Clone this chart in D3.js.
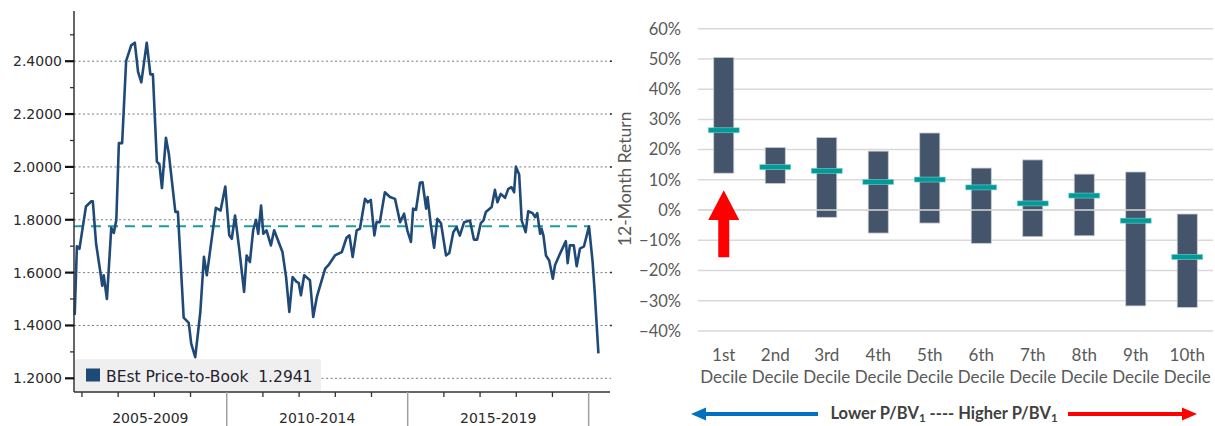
<!DOCTYPE html>
<html>
<head>
<meta charset="utf-8">
<script src="https://cdn.jsdelivr.net/npm/d3@7"></script>
<style>
  html, body { margin: 0; padding: 0; background: #fff; }
  svg { display: block; }
</style>
</head>
<body>
<svg id="chart" width="1215" height="426"></svg>
<script>
// ---------------- LEFT CHART DATA (Bloomberg P/B line) ----------------
const lineYears = [
  2005.80, 2005.86, 2005.93, 2006.11, 2006.26, 2006.30, 2006.39, 2006.51, 2006.56, 2006.60,
  2006.69, 2006.81, 2006.88, 2006.95, 2007.02, 2007.11, 2007.22, 2007.36, 2007.46, 2007.55,
  2007.64, 2007.79, 2007.89, 2007.96, 2008.07, 2008.14, 2008.21, 2008.32, 2008.40, 2008.58,
  2008.65, 2008.81, 2008.95, 2009.02, 2009.13, 2009.27, 2009.37, 2009.45, 2009.70, 2009.83,
  2009.96, 2010.07, 2010.14, 2010.23, 2010.35, 2010.48, 2010.55, 2010.64, 2010.73, 2010.81,
  2010.87, 2010.95, 2011.01, 2011.10, 2011.22, 2011.31, 2011.54, 2011.64, 2011.73, 2011.82,
  2011.93, 2011.99, 2012.05, 2012.14, 2012.30, 2012.39, 2012.49, 2012.72, 2012.81, 2012.99,
  2013.18, 2013.31, 2013.39, 2013.48, 2013.59, 2013.68, 2013.82, 2013.90, 2013.98, 2014.08,
  2014.14, 2014.23, 2014.37, 2014.51, 2014.65, 2014.79, 2014.90, 2014.99, 2015.09, 2015.15,
  2015.23, 2015.34, 2015.41, 2015.51, 2015.55, 2015.64, 2015.73, 2015.82, 2015.92, 2016.06,
  2016.15, 2016.26, 2016.35, 2016.44, 2016.56, 2016.72, 2016.83, 2016.92, 2017.02, 2017.09,
  2017.16, 2017.32, 2017.41, 2017.48, 2017.57, 2017.69, 2017.78, 2017.87, 2017.94, 2017.99,
  2018.08, 2018.15, 2018.26, 2018.33, 2018.45, 2018.52, 2018.58, 2018.66, 2018.70, 2018.75,
  2018.82, 2018.91, 2019.01, 2019.07, 2019.21, 2019.37, 2019.42, 2019.48, 2019.59, 2019.67,
  2019.76, 2019.87, 2020.01, 2020.11, 2020.17, 2020.27
];
const lineValues = [
  1.44, 1.70, 1.69, 1.85, 1.87, 1.87, 1.71, 1.60, 1.55, 1.59,
  1.50, 1.77, 1.75, 1.80, 2.09, 2.09, 2.40, 2.46, 2.47, 2.36,
  2.32, 2.47, 2.35, 2.35, 2.02, 2.01, 1.92, 2.11, 2.05, 1.83,
  1.83, 1.43, 1.41, 1.33, 1.28, 1.45, 1.66, 1.59, 1.845, 1.835,
  1.926, 1.741, 1.728, 1.816, 1.684, 1.527, 1.665, 1.64, 1.76, 1.80,
  1.747, 1.854, 1.747, 1.76, 1.703, 1.76, 1.678, 1.583, 1.451, 1.583,
  1.565, 1.561, 1.514, 1.59, 1.571, 1.432, 1.508, 1.615, 1.628, 1.665,
  1.678, 1.732, 1.741, 1.659, 1.76, 1.766, 1.879, 1.866, 1.875, 1.741,
  1.791, 1.791, 1.904, 1.886, 1.879, 1.791, 1.823, 1.76, 1.716, 1.842,
  1.838, 1.94, 1.942, 1.842, 1.886, 1.779, 1.694, 1.804, 1.787, 1.665,
  1.674, 1.753, 1.772, 1.74, 1.791, 1.797, 1.725, 1.725, 1.787, 1.797,
  1.829, 1.848, 1.913, 1.866, 1.898, 1.883, 1.917, 1.923, 1.904, 2.001,
  1.971, 1.797, 1.753, 1.832, 1.825, 1.81, 1.825, 1.747, 1.766, 1.741,
  1.665, 1.646, 1.577, 1.628, 1.672, 1.719, 1.636, 1.703, 1.703, 1.624,
  1.691, 1.699, 1.775, 1.64, 1.521, 1.2941
];
const averageValue = 1.775;
const averageEndYear = 2020;
const leftMajorTicks = [1.2, 1.4, 1.6, 1.8, 2.0, 2.2, 2.4];
const leftMinorTicks = [1.3, 1.5, 1.7, 1.9, 2.1, 2.3, 2.5];
const yearTicks = [2006, 2007, 2008, 2009, 2011, 2012, 2013, 2014, 2016, 2017, 2018, 2019];
const periodBreaks = [2010, 2015, 2020];
const periodLabels = ["2005-2009", "2010-2014", "2015-2019"];
const legendLabel = "BEst Price-to-Book  1.2941";

// ---------------- RIGHT CHART DATA (decile returns) ----------------
const deciles = ["1st", "2nd", "3rd", "4th", "5th", "6th", "7th", "8th", "9th", "10th"];
const highs   = [0.505, 0.207, 0.240, 0.195, 0.255, 0.139, 0.166, 0.119, 0.126, -0.013];
const lows    = [0.122, 0.088, -0.024, -0.076, -0.043, -0.110, -0.088, -0.085, -0.317, -0.322];
const medians = [0.264, 0.142, 0.130, 0.093, 0.101, 0.075, 0.022, 0.048, -0.035, -0.155];
const rightTicks = [-0.4, -0.3, -0.2, -0.1, 0, 0.1, 0.2, 0.3, 0.4, 0.5, 0.6];
const rightAxisTitle = "12-Month Return";

// ======================================================================
const svg = d3.select("#chart");
svg.append("rect").attr("width", 1215).attr("height", 426).attr("fill", "#fff");

// ---------------- LEFT CHART ----------------
const L = { left: 74, right: 610, top: 11, bottom: 392 };
const xL = d3.scaleLinear().domain([2005.78, 2020.59]).range([L.left, L.right]);
const yL = d3.scaleLinear().domain([1.1482, 2.590]).range([L.bottom, L.top]);
const gL = svg.append("g");

// grid lines
gL.selectAll("line.grid").data(leftMajorTicks).join("line")
  .attr("x1", L.left).attr("x2", L.right + 1)
  .attr("y1", d => yL(d)).attr("y2", d => yL(d))
  .attr("stroke", "#7a7a7a").attr("stroke-width", 1)
  .attr("stroke-dasharray", "2,2.5");
// small right-edge marks
gL.selectAll("line.redge").data(leftMajorTicks.filter(d => d > 1.2)).join("line")
  .attr("x1", L.right).attr("x2", L.right + 2)
  .attr("y1", d => yL(d)).attr("y2", d => yL(d))
  .attr("stroke", "#333").attr("stroke-width", 1.5);

// average dashed line
gL.append("line")
  .attr("x1", xL(xL.domain()[0])).attr("x2", xL(averageEndYear))
  .attr("y1", yL(averageValue)).attr("y2", yL(averageValue))
  .attr("stroke", "#1a9e98").attr("stroke-width", 2)
  .attr("stroke-dasharray", "10,7");

// legend box (behind line)
gL.append("rect")
  .attr("x", 75).attr("y", 359).attr("width", 246).attr("height", 34)
  .attr("rx", 3).attr("fill", "#efefef");
gL.append("rect")
  .attr("x", 86).attr("y", 368.5).attr("width", 14).attr("height", 13)
  .attr("fill", "#1f4a78");
gL.append("text")
  .attr("x", 106).attr("y", 381.5)
  .attr("font-family", "DejaVu Sans").attr("font-size", 15.5)
  .attr("fill", "#24222e").attr("xml:space", "preserve")
  .text(legendLabel);

// price line
const lineData = lineYears.map((y, i) => [y, lineValues[i]]);
gL.append("path")
  .datum(lineData)
  .attr("d", d3.line().x(d => xL(d[0])).y(d => yL(d[1])))
  .attr("fill", "none").attr("stroke", "#1f4a78")
  .attr("stroke-width", 2.6).attr("stroke-linejoin", "round");

// y axis
gL.append("line").attr("x1", L.left).attr("x2", L.left).attr("y1", L.top).attr("y2", L.bottom)
  .attr("stroke", "#333").attr("stroke-width", 1.5);
gL.selectAll("line.maj").data(leftMajorTicks).join("line")
  .attr("x1", L.left - 9).attr("x2", L.left)
  .attr("y1", d => yL(d)).attr("y2", d => yL(d))
  .attr("stroke", "#111").attr("stroke-width", 2.2);
gL.selectAll("line.min").data(leftMinorTicks).join("line")
  .attr("x1", L.left - 4).attr("x2", L.left)
  .attr("y1", d => yL(d)).attr("y2", d => yL(d))
  .attr("stroke", "#333").attr("stroke-width", 1.3);
gL.selectAll("text.ylab").data(leftMajorTicks).join("text")
  .attr("x", 62).attr("y", d => yL(d) + 5)
  .attr("text-anchor", "end")
  .attr("font-family", "DejaVu Sans").attr("font-size", 14)
  .attr("fill", "#2a2a2a")
  .text(d => d3.format(".4f")(d));

// x axis
gL.append("line").attr("x1", L.left).attr("x2", L.right).attr("y1", L.bottom).attr("y2", L.bottom)
  .attr("stroke", "#333").attr("stroke-width", 1.5);
gL.selectAll("line.xt").data(yearTicks).join("line")
  .attr("x1", d => xL(d)).attr("x2", d => xL(d))
  .attr("y1", L.bottom).attr("y2", L.bottom + 5)
  .attr("stroke", "#333").attr("stroke-width", 1.3);
gL.selectAll("line.sep").data(periodBreaks).join("line")
  .attr("x1", d => xL(d)).attr("x2", d => xL(d))
  .attr("y1", L.bottom).attr("y2", 426)
  .attr("stroke", "#a0a0a0").attr("stroke-width", 1.5);
const periodStarts = [xL.domain()[0]].concat(periodBreaks.slice(0, -1));
gL.selectAll("text.xlab").data(periodLabels).join("text")
  .attr("x", (d, i) => (xL(periodStarts[i]) + xL(periodBreaks[i])) / 2)
  .attr("y", 423)
  .attr("text-anchor", "middle")
  .attr("font-family", "DejaVu Sans").attr("font-size", 14)
  .attr("fill", "#2a2a2a")
  .text(d => d);

// ---------------- RIGHT CHART ----------------
const R = { left: 698, right: 1213, top: 28.7, bottom: 331 };
const xR = d3.scaleBand().domain(deciles).range([R.left, R.right]);
const yR = d3.scaleLinear().domain([-0.4, 0.6]).range([R.bottom, R.top]);
const gR = svg.append("g");
const fontR = "Lato, 'Open Sans', sans-serif";

gR.selectAll("line.rgrid").data(rightTicks).join("line")
  .attr("x1", R.left).attr("x2", R.right)
  .attr("y1", d => yR(d)).attr("y2", d => yR(d))
  .attr("stroke", "#d9d9d9").attr("stroke-width", 1.5);

gR.selectAll("text.rtick").data(rightTicks).join("text")
  .attr("x", 681).attr("y", d => yR(d) + 5.8)
  .attr("text-anchor", "end")
  .attr("font-family", fontR).attr("font-size", 16.5)
  .attr("fill", "#595959")
  .text(d => d3.format(".0%")(d));

gR.append("text")
  .attr("transform", `translate(631,${(yR(0.6) + yR(-0.4)) / 2 - 1}) rotate(-90)`)
  .attr("text-anchor", "middle")
  .attr("font-family", fontR).attr("font-size", 17.5)
  .attr("fill", "#595959")
  .text(rightAxisTitle);

const bw = xR.bandwidth();
const barW = bw * 0.39;
const medW = bw * 0.6;

gR.selectAll("rect.bar").data(deciles).join("rect")
  .attr("x", d => xR(d) + (bw - barW) / 2)
  .attr("width", barW)
  .attr("y", (d, i) => yR(highs[i]))
  .attr("height", (d, i) => yR(lows[i]) - yR(highs[i]))
  .attr("fill", "#44546a")
  .attr("stroke", "#c8ccd2").attr("stroke-width", 0.8);

// zero line on top
gR.append("line")
  .attr("x1", R.left).attr("x2", R.right)
  .attr("y1", yR(0)).attr("y2", yR(0))
  .attr("stroke", "#d9d9d9").attr("stroke-width", 1.5);

gR.selectAll("rect.med").data(deciles).join("rect")
  .attr("x", d => xR(d) + (bw - medW) / 2)
  .attr("width", medW)
  .attr("y", (d, i) => yR(medians[i]) - 2.5)
  .attr("height", 5)
  .attr("fill", "#009a98")
  .attr("stroke", "#7fcfcb").attr("stroke-width", 0.6);

const catLabels = gR.selectAll("text.cat").data(deciles).join("text")
  .attr("text-anchor", "middle")
  .attr("font-family", fontR).attr("font-size", 17)
  .attr("fill", "#595959");
catLabels.append("tspan")
  .attr("x", d => xR(d) + bw / 2).attr("y", 361)
  .text(d => d);
catLabels.append("tspan")
  .attr("x", d => xR(d) + bw / 2).attr("y", 383)
  .text("Decile");

// red up arrow at the 1st decile
const ax = xR(deciles[0]) + bw / 2;
const tipY = yR(0.066), headY = yR(-0.033), tailY = yR(-0.156);
gR.append("path")
  .attr("d", `M${ax},${tipY} L${ax + 15.5},${headY} L${ax + 5.5},${headY} L${ax + 5.5},${tailY}
              L${ax - 5.5},${tailY} L${ax - 5.5},${headY} L${ax - 15.5},${headY} Z`)
  .attr("fill", "#ff0000");

// bottom arrows + label
const arrowY = 414;
gR.append("line").attr("x1", 702).attr("x2", 818).attr("y1", arrowY).attr("y2", arrowY)
  .attr("stroke", "#0070c0").attr("stroke-width", 4);
gR.append("path").attr("d", `M691,${arrowY} L706,${arrowY - 6.5} L706,${arrowY + 6.5} Z`)
  .attr("fill", "#0070c0");
gR.append("line").attr("x1", 1068).attr("x2", 1186).attr("y1", arrowY).attr("y2", arrowY)
  .attr("stroke", "#ff0000").attr("stroke-width", 4);
gR.append("path").attr("d", `M1197,${arrowY} L1182,${arrowY - 6.5} L1182,${arrowY + 6.5} Z`)
  .attr("fill", "#ff0000");

const bt = gR.append("text")
  .attr("x", 944).attr("y", 419)
  .attr("text-anchor", "middle")
  .attr("font-family", fontR).attr("font-size", 16.5).attr("font-weight", "bold")
  .attr("fill", "#404040");
bt.append("tspan").text("Lower P/BV");
bt.append("tspan").attr("font-size", 11.5).attr("dy", 3).text("1");
bt.append("tspan").attr("dy", -3).text(" ---- Higher P/BV");
bt.append("tspan").attr("font-size", 11.5).attr("dy", 3).text("1");
</script>
</body>
</html>
